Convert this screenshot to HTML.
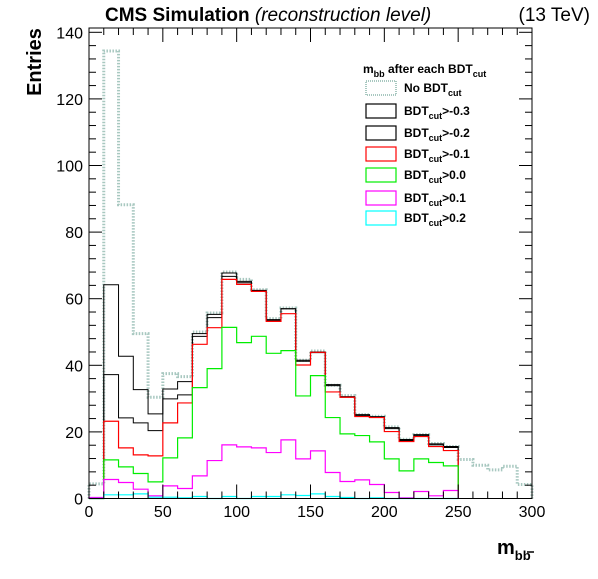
<!DOCTYPE html>
<html><head><meta charset="utf-8">
<style>
html,body{margin:0;padding:0;background:#fff;}
svg text{font-family:"Liberation Sans",Arial,sans-serif;}
</style></head>
<body>
<svg id="chart" width="598" height="574" xmlns="http://www.w3.org/2000/svg">
<rect x="0" y="0" width="598" height="574" fill="#fff"/>
<g id="series"></g>
<g id="axes"></g>
<text x="105" y="21" font-size="19" font-weight="bold">CMS Simulation <tspan font-weight="normal" font-style="italic">(reconstruction level)</tspan></text>
<text x="590" y="21" font-size="19" text-anchor="end">(13 TeV)</text>
<text transform="translate(41,62) rotate(-90)" font-size="20" font-weight="bold" text-anchor="middle">Entries</text>
<text x="497" y="554" font-size="20" font-weight="bold">m<tspan font-size="13" dy="6">b</tspan><tspan font-size="13">b</tspan></text>
<line x1="527" y1="552" x2="534" y2="552" stroke="#000" stroke-width="1.5"/>
<g id="legend"></g>
</svg>
<script>
const binStart = 0, binWidth = 10;
const noCut = [4.4,134.4,88.2,49.5,30.4,37.5,36.6,50,55.7,68,65.8,62.7,54,57.2,41.5,44.3,34,30.9,25.2,24.7,21.5,17.8,19.2,16.5,15.6,11.7,10,8.6,9.7,4.2];
const cutM03 = [0,64.2,42.7,32.7,25.4,32.9,35.1,49.5,55.3,67.7,65.2,62.5,53.7,57,41.5,44,34.2,30.6,25.2,24.6,21.3,17.7,19.2,16.4,15.6];
const cutM02 = [0,37.2,24.2,22.7,20.4,29.9,31.1,48.7,54.3,66.7,64.8,62.3,53.5,57,41.2,43.8,33.9,30.4,24.9,24.4,21,17.4,18.9,16.1,15.3];
const cutM01 = [0,23.2,15.2,13.1,12.8,22.7,28.7,46.3,51.3,65.8,64.3,62.2,53.2,55.5,40.1,43.9,32,30.4,24.6,24.3,20.1,17.1,18.6,15.6,14.4];
const cut00 = [0,11.6,9.5,7.5,5,12.2,18.2,33.3,39,51.4,46.8,48.7,43.6,44.4,30.8,36.9,24.3,19.4,18.9,17,11.9,8.3,11.9,10.8,9.8];
const cut01 = [0.3,5.7,4.8,2.8,0.8,3.8,3,6.8,11.4,16.1,15.5,15.2,13.8,17.6,11.9,14.3,7.8,5.1,5.6,4.2,1.8,0.2,2.1,0.8,2.4];
const cut02 = [0,1.1,1.1,1.4,0.4,0.4,0.2,0.6,0,0.6,0,0.6,0.6,1.1,0.9,1.4,0.6,0.3,0,0.2,0,0,0,0,0];
const xTicks = [0,50,100,150,200,250,300];
const yTicks = [0,20,40,60,80,100,120,140];
const legendLabels = ["No BDT","BDT>-0.3","BDT>-0.2","BDT>-0.1","BDT>0.0","BDT>0.1","BDT>0.2"];

const NS="http://www.w3.org/2000/svg";
const X0=89, X1=532, Y0=498.5, YTOP=28;
const xs=v=>X0+(v-0)*(X1-X0)/300;
const ys=v=>Y0-v*(498.5-32.3)/140;
function mk(tag,attrs,parent){const e=document.createElementNS(NS,tag);for(const k in attrs)e.setAttribute(k,attrs[k]);parent.appendChild(e);return e;}

const series=[
 {d:noCut,c:"#a8c8c0",w:3,dash:"1.5,1.5",name:"no-bdt-cut"},
 {d:cutM03,c:"#000",w:1,name:"bdt-gt-m0.3"},
 {d:cutM02,c:"#000",w:1,name:"bdt-gt-m0.2"},
 {d:cutM01,c:"#f00",w:1.2,name:"bdt-gt-m0.1"},
 {d:cut00,c:"#0e0",w:1.2,name:"bdt-gt-0.0"},
 {d:cut01,c:"#f0f",w:1.2,name:"bdt-gt-0.1"},
 {d:cut02,c:"#0ff",w:1.2,name:"bdt-gt-0.2"}];
const sg=document.getElementById('series');
series.forEach(s=>{
  let p="M"+xs(binStart)+","+ys(0);
  s.d.forEach((v,i)=>{const a=xs(binStart+i*binWidth),b=xs(binStart+(i+1)*binWidth);p+=" L"+a+","+ys(v)+" L"+b+","+ys(v);});
  p+=" L"+xs(binStart+s.d.length*binWidth)+","+ys(0);
  const el=mk('path',{d:p,fill:"none",stroke:s.c,"stroke-width":s.w},sg);
  if(s.dash)el.setAttribute('stroke-dasharray',s.dash);
  
  
});

const ag=document.getElementById('axes');
const fr=mk('rect',{x:X0,y:YTOP,width:X1-X0,height:Y0-YTOP,fill:"none",stroke:"#000","stroke-width":1},ag);


for(let v=0;v<=300;v+=10){
  const maj=v%50===0,L=maj?14:7,x=xs(v);
  mk('line',{x1:x,y1:Y0,x2:x,y2:Y0-L,stroke:"#000"},ag);
  mk('line',{x1:x,y1:YTOP,x2:x,y2:YTOP+L,stroke:"#000"},ag);
}
for(let v=0;v<=140;v+=4){
  const maj=v%20===0,L=maj?13:7,y=ys(v);
  mk('line',{x1:X0,y1:y,x2:X0+L,y2:y,stroke:"#000"},ag);
  mk('line',{x1:X1,y1:y,x2:X1-L,y2:y,stroke:"#000"},ag);
}
xTicks.forEach(v=>{
  const t=mk('text',{x:xs(v),y:517,"font-size":16,"text-anchor":"middle"},ag);t.textContent=v;
  
  
});
yTicks.forEach(v=>{
  const t=mk('text',{x:83,y:ys(v)+6,"font-size":16,"text-anchor":"end"},ag);t.textContent=v;
  
  
});

const lg=document.getElementById('legend');
const hd=mk('text',{x:363,y:73,"font-size":12,"font-weight":"bold"},lg);
hd.innerHTML='m<tspan font-size="9" dy="4">bb</tspan><tspan dy="-4"> after each BDT</tspan><tspan font-size="9" dy="4">cut</tspan>';


const rowY=[88,111,133,154,175,198,218];
legendLabels.forEach((lab,i)=>{
  const s=series[i],y=rowY[i];
  const b=mk('rect',{x:366,y:y-7,width:30,height:14,fill:"none",stroke:s.c,"stroke-width":s.dash?2:1.2},lg);
  if(s.dash)b.setAttribute('stroke-dasharray','1,1');
  
  
  const t=mk('text',{x:404,y:y+4,"font-size":12,"font-weight":"bold"},lg);
  const parts=lab.split('BDT');
  t.innerHTML=parts[0]+'BDT<tspan font-size="9" dy="4">cut</tspan><tspan dy="-4">'+parts[1]+'</tspan>';
  
  
});
</script>
</body></html>
